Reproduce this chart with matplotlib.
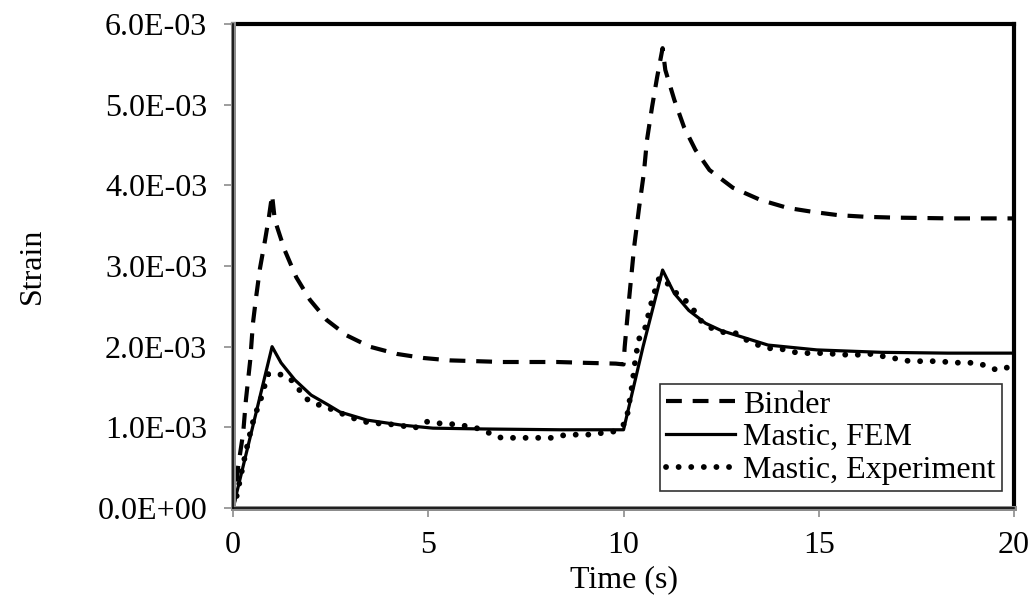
import matplotlib.pyplot as plt
from matplotlib.lines import Line2D

SERIF = ["Liberation Serif", "DejaVu Serif"]
GRAY = "#8c8c8c"
FS = 23

# strain values below are in units of 1e-3
binder_t = [0, 0.04, 0.13, 0.26, 0.33, 0.44, 0.51, 0.59, 0.69, 0.82, 0.92, 1.0,
            1.07, 1.32, 1.62, 1.97, 2.4, 2.91, 3.5, 4.2, 4.87, 5.56, 6.25, 6.9,
            7.6, 8.3, 9.0, 9.8, 10.0, 10.03, 10.14, 10.27, 10.4, 10.52, 10.6,
            10.73, 10.86, 11.0, 11.07, 11.3, 11.55, 11.84, 12.2, 12.8, 13.5,
            14.2, 14.86, 15.5, 16.2, 16.9, 18.4, 20.0]
binder_e = [0, 0.1, 0.51, 0.93, 1.34, 1.83, 2.29, 2.61, 2.97, 3.32, 3.61, 3.88,
            3.57, 3.2, 2.86, 2.58, 2.33, 2.14, 2.0, 1.91, 1.86, 1.83, 1.82, 1.81,
            1.81, 1.81, 1.80, 1.79, 1.78, 2.0, 2.58, 3.23, 3.73, 4.15, 4.56,
            4.97, 5.34, 5.70, 5.43, 5.06, 4.72, 4.44, 4.19, 3.97, 3.82,
            3.72, 3.67, 3.63, 3.61, 3.60, 3.59, 3.59]

fem_t = [0, 1.0, 1.23, 1.58, 2.0, 2.43, 2.74, 3.43, 4.28, 5.12, 6.4, 8.37, 10.0,
         10.5, 11.0, 11.3, 11.67, 12.1, 12.5, 12.9, 13.7, 14.95, 16.6, 18.3, 20.0]
fem_e = [0, 2.0, 1.80, 1.59, 1.40, 1.28, 1.19, 1.09, 1.03, 0.99, 0.98, 0.97, 0.97,
         2.0, 2.95, 2.66, 2.45, 2.29, 2.20, 2.14, 2.02, 1.96, 1.93, 1.92, 1.92]

exp_t = [0, 0.1, 0.2, 0.3, 0.4, 0.5, 0.6, 0.7, 0.8, 0.9, 1.13, 1.45, 1.66, 1.85,
         2.13, 2.44, 2.74, 3.04, 3.36, 3.68, 4.0, 4.33, 4.64, 4.96, 5.28, 5.6,
         5.92, 6.24, 6.56, 6.87, 7.2, 7.5, 7.85, 8.18, 8.45, 8.8, 9.15, 9.45,
         9.78, 10.04, 10.12, 10.17, 10.22, 10.3, 10.35, 10.42, 10.6, 10.65,
         10.76, 10.83, 10.92, 11.1, 11.26, 11.57, 11.75, 11.96, 12.2, 12.55,
         12.86, 13.16, 13.45, 13.75, 14.05, 14.4, 14.7, 15.1, 15.4, 15.7, 16.05,
         16.35, 16.65, 17.0, 17.33, 17.7, 18.0, 18.3, 18.6, 18.95, 19.25, 19.56,
         19.9, 20.0]
exp_e = [0, 0.16, 0.4, 0.63, 0.85, 1.05, 1.2, 1.33, 1.5, 1.66, 1.67, 1.61, 1.49,
         1.36, 1.29, 1.24, 1.18, 1.12, 1.07, 1.05, 1.04, 1.02, 0.99, 1.07, 1.05,
         1.04, 1.02, 0.99, 0.93, 0.87, 0.87, 0.87, 0.87, 0.87, 0.90, 0.91, 0.91,
         0.93, 0.95, 1.05, 1.21, 1.38, 1.52, 1.83, 1.98, 2.14, 2.27, 2.45, 2.61,
         2.74, 2.86, 2.80, 2.70, 2.58, 2.49, 2.33, 2.24, 2.18, 2.17, 2.08, 2.02,
         1.98, 1.97, 1.93, 1.92, 1.92, 1.91, 1.90, 1.90, 1.91, 1.88, 1.85, 1.82,
         1.82, 1.82, 1.81, 1.80, 1.80, 1.77, 1.71, 1.75, 1.74]

x_ticks = [0, 5, 10, 15, 20]
y_ticks = [0, 1e-3, 2e-3, 3e-3, 4e-3, 5e-3, 6e-3]
y_ticklabels = ["0.0E+00", "1.0E-03", "2.0E-03", "3.0E-03", "4.0E-03",
                "5.0E-03", "6.0E-03"]

plt.rcParams.update({
    "font.family": SERIF,
    "font.size": FS,
})

fig = plt.figure(figsize=(10.32, 6.04), dpi=100)
ax = fig.add_axes([0.2258, 0.1589, 0.7568, 0.8014])


def scaled(vals):
    return [v * 1e-3 for v in vals]


ax.plot(binder_t, scaled(binder_e), color="black", lw=3.0,
        linestyle=(0, (3.8, 2.6)), dash_capstyle="butt", label="Binder")
ax.plot(fem_t, scaled(fem_e), color="black", lw=2.3, label="Mastic, FEM")
ax.plot(exp_t, scaled(exp_e), color="black", lw=4.2,
        linestyle=(0, (0.01, 2.15)), dash_capstyle="round",
        label="Mastic, Experiment")

ax.set_xlim(0, 20)
ax.set_ylim(0, 6e-3)
ax.set_xticks(x_ticks)
ax.set_xticklabels([str(t) for t in x_ticks])
ax.set_yticks(y_ticks)
ax.set_yticklabels(y_ticklabels)
ax.tick_params(direction="out", length=6.5, width=1.2, color=GRAY,
               labelcolor="black", labelsize=FS)
ax.tick_params(axis="y", pad=12)
ax.tick_params(axis="x", pad=10)

for side in ("top", "right"):
    ax.spines[side].set_color("black")
    ax.spines[side].set_linewidth(3.0)
for side in ("left", "bottom"):
    ax.spines[side].set_color(GRAY)
    ax.spines[side].set_linewidth(3.6)
    ax.spines[side].set_zorder(3)
# dark core line along the value/category axes
ax.add_line(Line2D([0, 0], [0, 1], transform=ax.transAxes, color="black",
                   lw=1.1, clip_on=False, zorder=4))
ax.add_line(Line2D([0, 1], [0, 0], transform=ax.transAxes, color="black",
                   lw=1.1, clip_on=False, zorder=4))

ax.set_xlabel("Time (s)", fontsize=FS)
ax.set_ylabel("Strain", fontsize=FS)
ax.xaxis.set_label_coords(0.5, -0.118)
ax.yaxis.set_label_coords(-0.238, 0.5)

leg = ax.legend(loc="lower right", bbox_to_anchor=(0.9846, 0.035),
                borderaxespad=0, fontsize=FS, frameon=True, fancybox=False,
                edgecolor="black", handlelength=2.15, handletextpad=0.25,
                labelspacing=0.1, borderpad=0.2)
leg.get_frame().set_linewidth(1.2)

fig.savefig("out.png", dpi=100)
